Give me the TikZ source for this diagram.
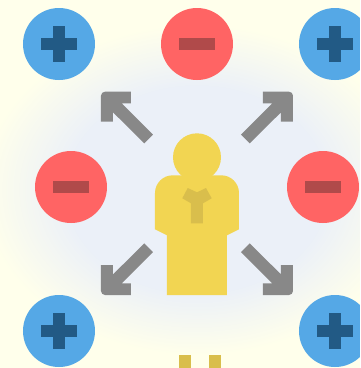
\documentclass[tikz,border=0pt]{standalone}
\definecolor{bgc}{HTML}{FFFFEB}
\definecolor{glowc}{HTML}{EBF0F8}
\definecolor{bluec}{HTML}{55A8E6}
\definecolor{bluedk}{HTML}{225A85}
\definecolor{redc}{HTML}{FF6464}
\definecolor{reddk}{HTML}{B04A4A}
\definecolor{yellowc}{HTML}{F2D552}
\definecolor{yellowdk}{HTML}{D9BE4C}
\definecolor{greyc}{HTML}{888888}
\newcommand{\cornerarrow}{\fill[arrowshape] (101,95.7) arc[start angle=180,end angle=270,radius=4] -- (131,91.7) -- (131,103.3) -- (121.7,103.3) -- (153,134.7) -- (144.3,143.3) -- (113,112.3) -- (113,121.7) -- (101,121.7) -- cycle;}
\tikzset{
  plusdisc/.style={fill=bluec},
  minusdisc/.style={fill=redc},
  plusbar/.style={fill=bluedk},
  minusbar/.style={fill=reddk},
  figure/.style={fill=yellowc},
  figuredk/.style={fill=yellowdk},
  arrowshape/.style={fill=greyc},
  plussign/.pic={\fill[plusbar] (-18.2,-6) rectangle (18.2,6); \fill[plusbar] (-6,-18) rectangle (6,18);},
  minussign/.pic={\fill[minusbar] (-18,-6) rectangle (18,6);}
}
\begin{document}
\begin{tikzpicture}[x=1pt,y=-1pt]
\useasboundingbox (0,0) rectangle (360,368);
\begin{scope}
\clip (0,0) rectangle (360,368);
\fill[bgc] (0,0) rectangle (360,368);
% soft glow as concentric ellipses, outermost first
\foreach \i in {0,...,45}{
  \pgfmathsetmacro{\tt}{\i/45}
  \pgfmathsetmacro{\radx}{215-85*\tt}
  \pgfmathsetmacro{\rady}{165-62*\tt}
  \pgfmathsetmacro{\pct}{100*\tt}
  \fill[glowc!\pct!bgc] (197,190) ellipse[x radius=\radx, y radius=\rady];
}
% discs
\foreach \cx/\cy in {59/44,335/44,59/331,335/331}{
  \fill[plusdisc] (\cx,\cy) circle[radius=36];
  \pic at (\cx,\cy) {plussign};
}
\foreach \cx/\cy in {197/44,71/187,323/187}{
  \fill[minusdisc] (\cx,\cy) circle[radius=36];
  \pic at (\cx,\cy) {minussign};
}
% arrows
\cornerarrow
\begin{scope}[xshift=394pt,xscale=-1]\cornerarrow\end{scope}
\begin{scope}[yshift=-386.7pt,yscale=-1]\cornerarrow\end{scope}
\begin{scope}[xshift=394pt,yshift=-386.7pt,xscale=-1,yscale=-1]\cornerarrow\end{scope}
% person
\fill[figure] (197,157.3) circle[radius=24];
\fill[figure] (155,229.3) -- (155,193) arc[start angle=180,end angle=270,radius=17.7] -- (221.3,175.3) arc[start angle=270,end angle=360,radius=17.7] -- (239,229.3) -- (227,235.3) -- (227,295) -- (167,295) -- (167,235.3) -- cycle;
\fill[figuredk] (191,223.3) -- (203,223.3) -- (203,203.3) -- (211.7,198.3) -- (206,188) -- (197,192.3) -- (187.7,188) -- (182.3,198.3) -- (191,203.3) -- cycle;
% feet
\fill[figuredk] (179,355) rectangle (191,368);
\fill[figuredk] (209,355) rectangle (221,368);
\end{scope}
\end{tikzpicture}
\end{document}
